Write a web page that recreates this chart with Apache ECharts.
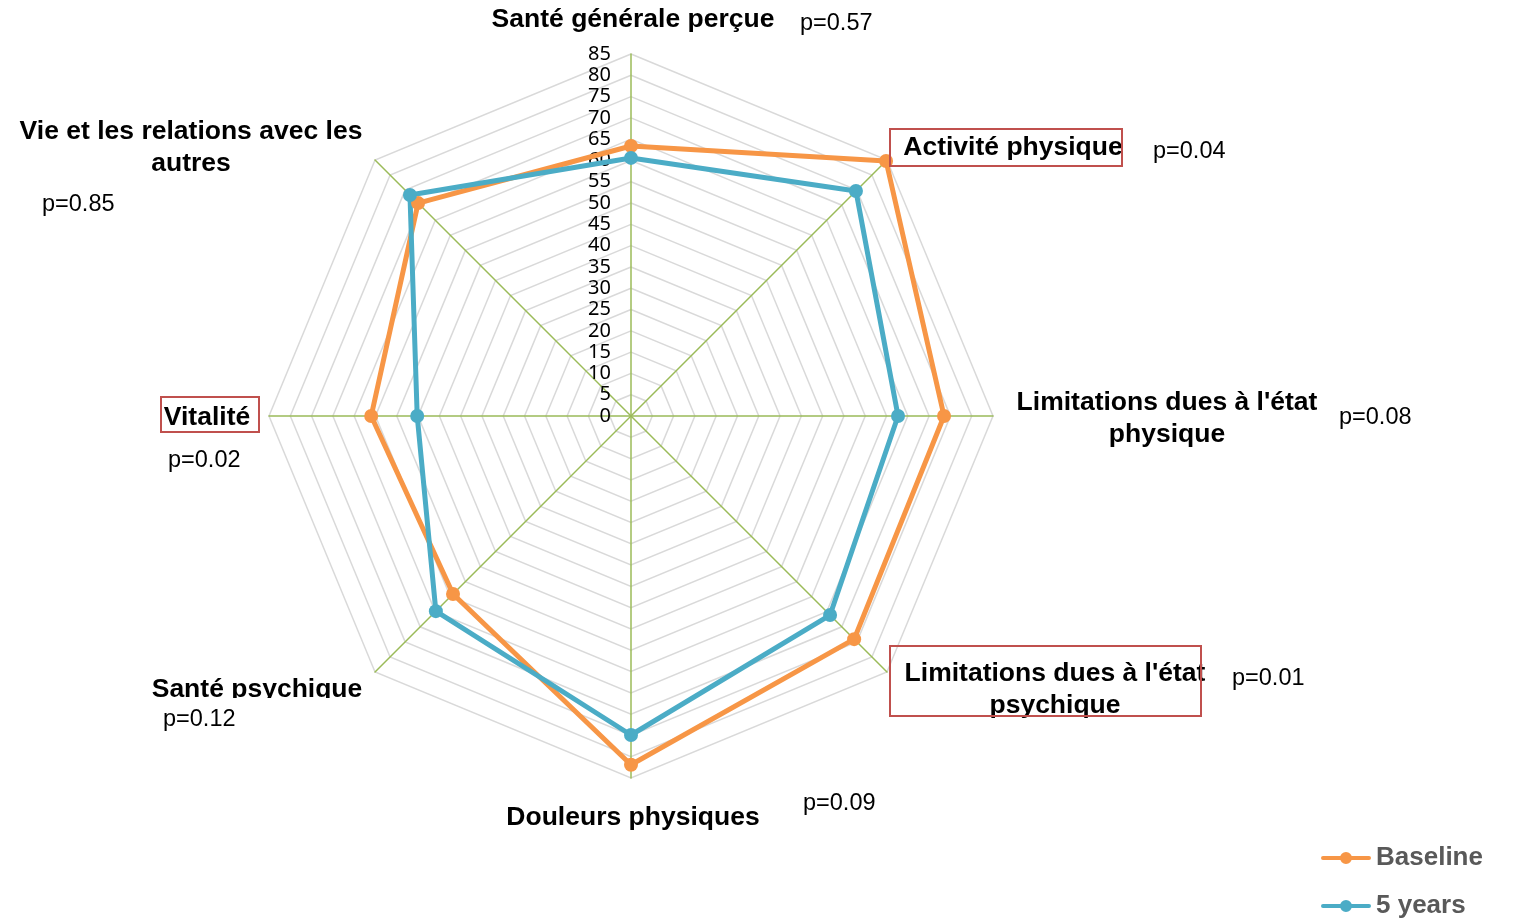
<!DOCTYPE html>
<html><head><meta charset="utf-8">
<script src="https://cdn.jsdelivr.net/npm/echarts@6/dist/echarts.min.js"></script>
<style>html,body{margin:0;padding:0;background:#fff}#c{width:1521px;height:920px}</style>
</head><body><div id="c"></div>
<script>
// ---- data ----
const categories = ['Santé générale perçue', 'Vie et les relations avec les\nautres', 'Vitalité', 'Santé psychique', 'Douleurs physiques', "Limitations dues à l'état\npsychique", "Limitations dues à l'état\nphysique", 'Activité physique'];
const pValues = ['p=0.57', 'p=0.85', 'p=0.02', 'p=0.12', 'p=0.09', 'p=0.01', 'p=0.08', 'p=0.04'];
const highlighted = [false, false, true, false, false, true, false, true];
const seriesNames = ['Baseline', '5 years'];
const baseline = [63.4, 70.7, 61.0, 59.1, 81.9, 74.1, 73.5, 84.7];
const fiveYears = [60.6, 73.4, 50.2, 64.8, 74.9, 66.1, 62.7, 74.7];
const axisMin = 0;
const axisMax = 85;
const axisStep = 5;

// ---- layout (positions only) ----
const CX = 631, CY = 416, R = 362;
const namePos = [[633, 20], [191, 148], [207, 418], [257, 690], [633, 818], [1055, 690], [1167, 419], [1013, 148]];
const pPos = [[800, 24], [42, 205], [168, 461], [163, 720], [803, 804], [1232, 679], [1339, 418], [1153, 152]];
const boxes = {2: [161, 397, 98, 35], 5: [890, 646, 311, 70], 7: [890, 129, 232, 37]};

const colors = ['#F79646', '#4BACC6'];
const AXIS_GREEN = '#9BBB59';
const graphics = [];
categories.forEach((name, i) => {
  graphics.push({
    type: 'text', x: namePos[i][0], y: namePos[i][1], z: 10,
    style: {text: name, fill: '#000', font: 'bold 26.5px "Liberation Sans", Arial, sans-serif',
      textAlign: 'center', textVerticalAlign: 'middle', lineHeight: 32}
  });
  graphics.push({
    type: 'text', x: pPos[i][0], y: pPos[i][1], z: 10,
    style: {text: pValues[i], fill: '#000', font: '23.5px "Liberation Sans", Arial, sans-serif',
      textAlign: 'left', textVerticalAlign: 'middle'}
  });
  if (highlighted[i]) {
    const b = boxes[i];
    graphics.push({type: 'rect', z: 11, shape: {x: b[0], y: b[1], width: b[2], height: b[3]},
      style: {fill: 'none', stroke: '#C0504D', lineWidth: 2}});
  }
});
// mask reproducing the clipped bottom of "Santé psychique"
graphics.push({type: 'rect', z: 12, shape: {x: 130, y: 698, width: 240, height: 9}, style: {fill: '#fff'}});

const legendIcon = 'path://M2,4 L48,4 A2,2 0 0 1 48,8 L2,8 A2,2 0 0 1 2,4 Z M19,6 A6,6 0 1 1 31,6 A6,6 0 1 1 19,6 Z';
const legendBase = {
  orient: 'horizontal', left: 1321, padding: 0, itemWidth: 50, itemHeight: 12, itemGap: 6,
  icon: legendIcon,
  textStyle: {color: '#595959', fontWeight: 'bold', fontSize: 26, fontFamily: '"Liberation Sans", Arial, sans-serif'}
};

const chart = echarts.init(document.getElementById('c'));
chart.setOption({
  animation: false,
  backgroundColor: '#fff',
  color: colors,
  legend: [
    Object.assign({}, legendBase, {top: 845, data: [seriesNames[0]]}),
    Object.assign({}, legendBase, {top: 893, data: [seriesNames[1]]})
  ],
  radar: {
    center: [CX, CY], radius: R, startAngle: 90, splitNumber: (axisMax - axisMin) / axisStep,
    shape: 'polygon',
    axisName: {show: false},
    indicator: categories.map((c, i) => {
      const ind = {name: c, min: axisMin, max: axisMax};
      if (i === 0) ind.axisLabel = {show: true};
      return ind;
    }),
    axisLine: {show: true, lineStyle: {color: AXIS_GREEN, width: 1.5}},
    axisTick: {show: false},
    axisLabel: {show: false, color: '#000', fontSize: 20, fontFamily: '"Noto Sans", sans-serif', margin: 20, showMinLabel: true, showMaxLabel: true},
    splitLine: {lineStyle: {color: '#D9D9D9', width: 1.5}},
    splitArea: {show: false}
  },
  series: [{
    type: 'radar',
    symbol: 'circle', symbolSize: 14,
    data: [
      {name: seriesNames[0], value: baseline, itemStyle: {color: colors[0]}, lineStyle: {color: colors[0], width: 5}},
      {name: seriesNames[1], value: fiveYears, itemStyle: {color: colors[1]}, lineStyle: {color: colors[1], width: 5}}
    ]
  }],
  graphic: graphics
});
</script></body></html>
